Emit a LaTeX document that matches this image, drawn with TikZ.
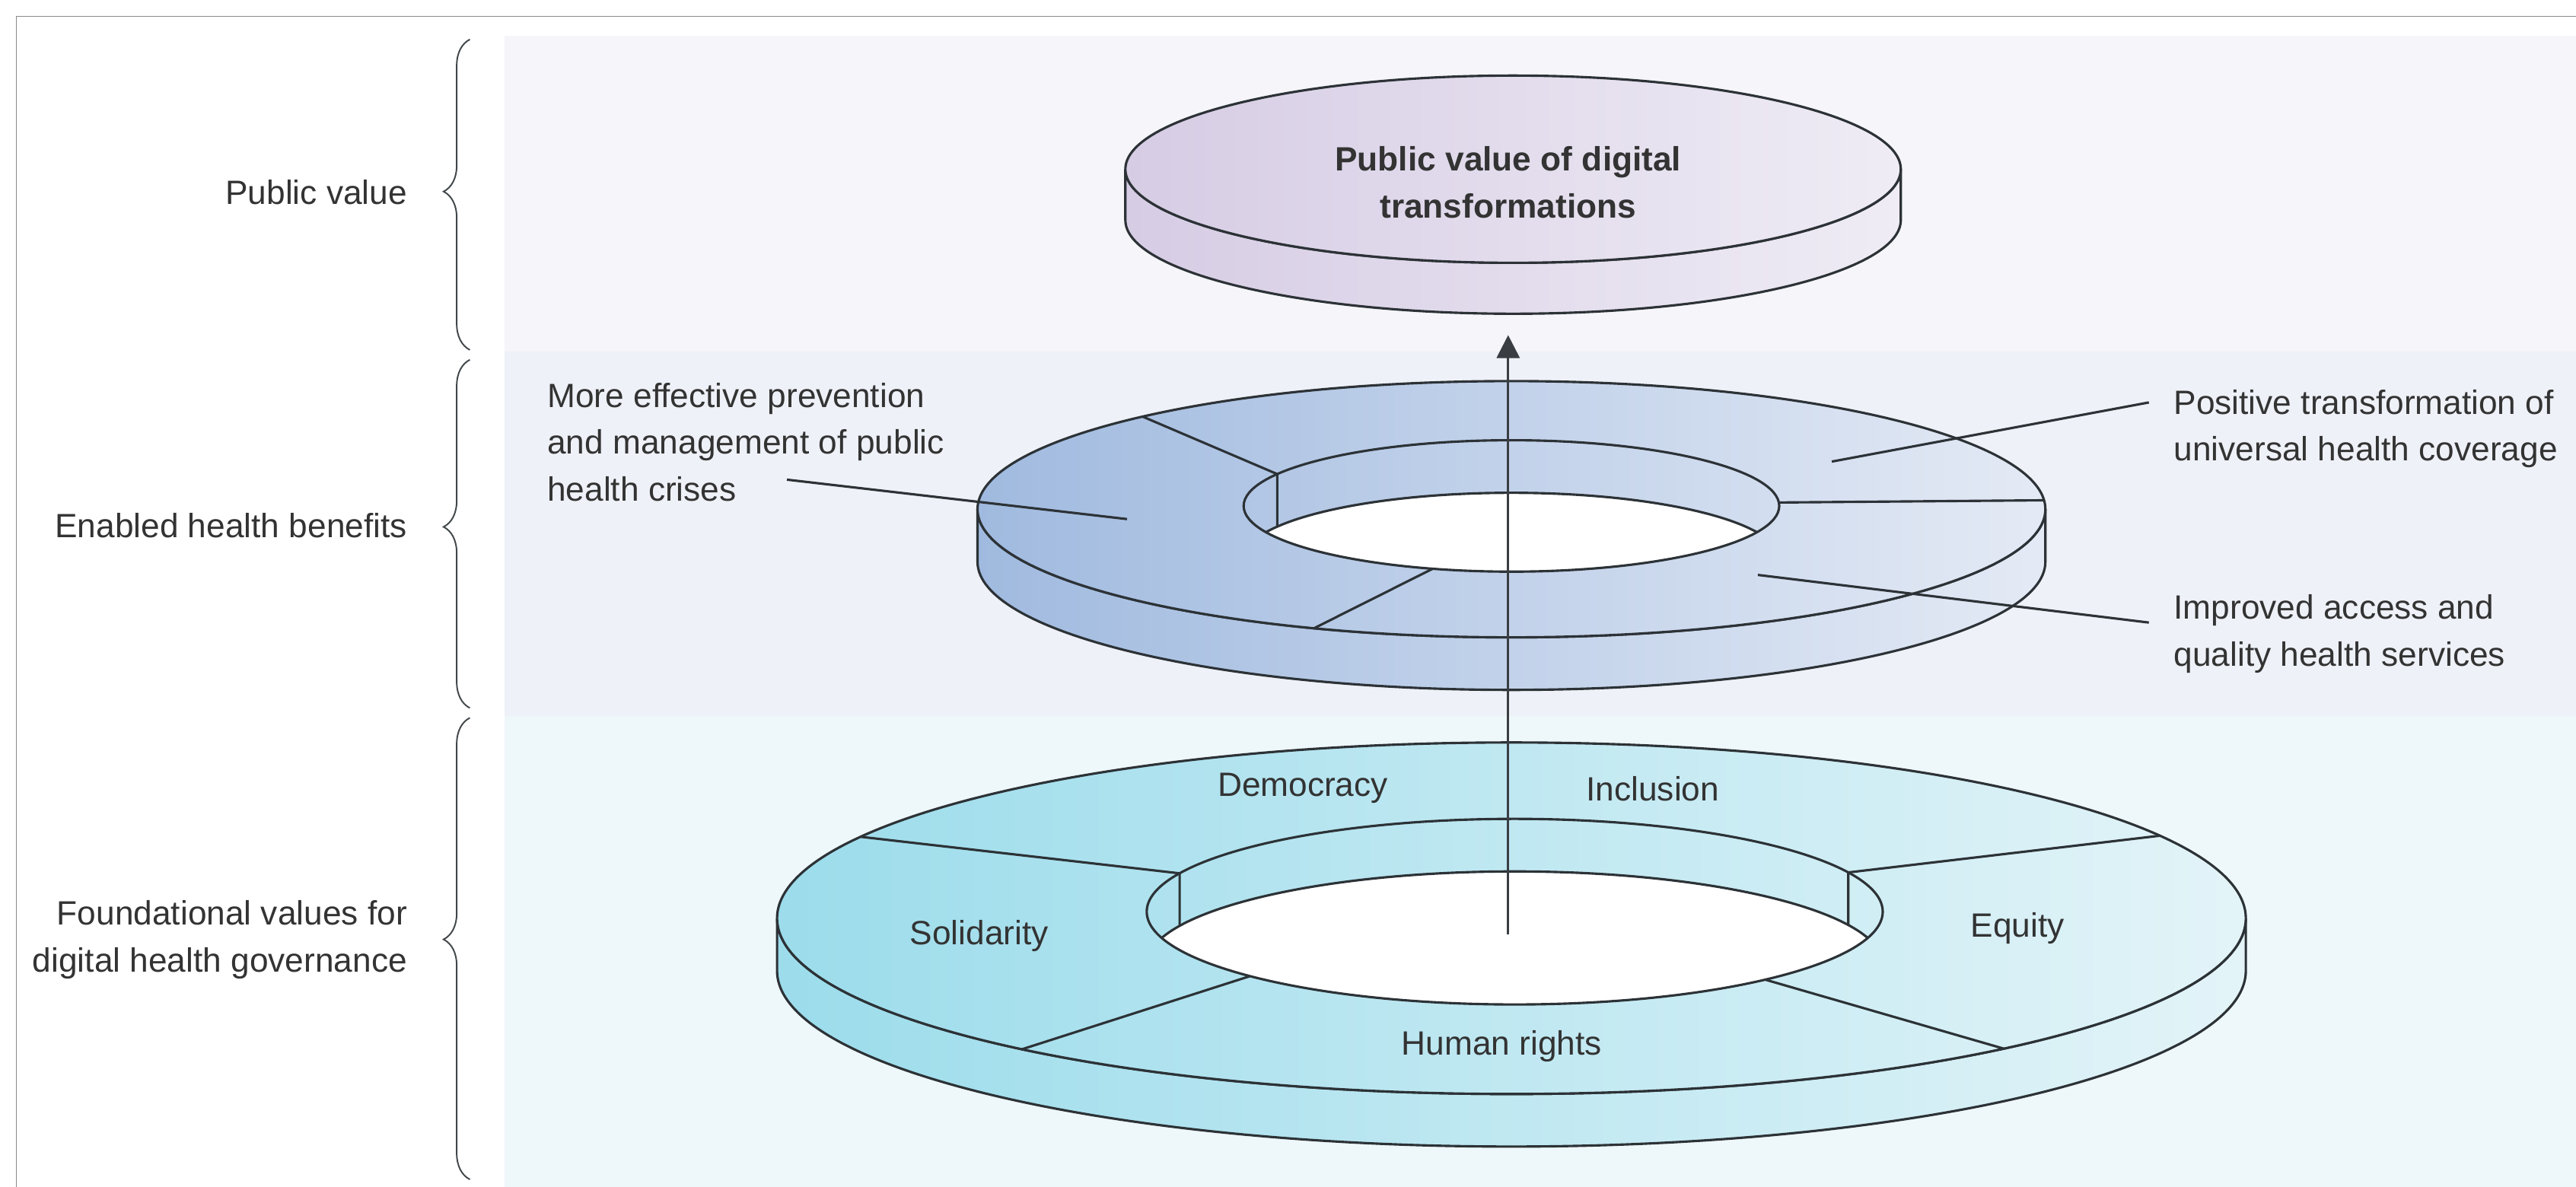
\documentclass[tikz,border=0pt]{standalone}
\usepackage{fontspec}
\setmainfont{Liberation Sans}
\usetikzlibrary{arrows.meta,decorations.pathreplacing,calc}
\definecolor{bandA}{HTML}{F5F5FA}
\definecolor{bandB}{HTML}{EEF1F7}
\definecolor{bandC}{HTML}{EEF7FA}
\definecolor{topL}{HTML}{D6CCE4}
\definecolor{topR}{HTML}{EFECF5}
\definecolor{midL}{HTML}{A0BADF}
\definecolor{midR}{HTML}{E4EAF5}
\definecolor{botL}{HTML}{9CDCEB}
\definecolor{botR}{HTML}{E3F4F8}
\definecolor{linecol}{HTML}{2C3236}
\definecolor{arrcol}{HTML}{3A3E42}
\definecolor{txtcol}{HTML}{333333}
\definecolor{framecol}{HTML}{8A8A8A}
\begin{document}
\begin{tikzpicture}[x=1pt,y=-1pt,
  font=\fontsize{20.5}{28.5}\selectfont,
  edge/.style={draw=linecol, line width=1.45pt},
  leader/.style={draw=linecol, line width=1.45pt},
  lbl/.style={text=txtcol, inner sep=0pt},
  bracestyle/.style={draw=linecol!90, line width=0.9pt, decorate,
     decoration={brace, amplitude=16pt}},
  ]
\useasboundingbox (0,0) rectangle (1568,722.6);
% bands
\fill[bandA] (307,22) rectangle (1568,214);
\fill[bandB] (307,214) rectangle (1568,436);
\fill[bandC] (307,436) rectangle (1568,722.6);
% frame
\draw[framecol, line width=0.8pt] (10,722.6) -- (10,10) -- (1568,10);
% braces
\draw[bracestyle, decoration={aspect=0.51}] (286,213) -- (286,24);
\draw[bracestyle, decoration={aspect=0.52}] (286,431) -- (286,219);
\draw[bracestyle, decoration={aspect=0.52}] (286,718) -- (286,437);
% side labels
\node[lbl, anchor=east] (lPV) at (248,117) {Public value};
\node[lbl, anchor=east] (lEHB) at (248,320) {Enabled health benefits};
\node[lbl, anchor=east, align=right] (lFV) at (248,572) {Foundational values for\\digital health governance};

% ---------- top disc ----------
\shade[left color=topL, right color=topR, edge]
  (1157,103) arc[start angle=0,end angle=180,x radius=236,y radius=57]
  -- (685,134) arc[start angle=180,end angle=0,x radius=236,y radius=57] -- cycle;
\shade[left color=topL, right color=topR, edge] (921,103) ellipse[x radius=236,y radius=57];
\node[lbl, align=center, font=\fontsize{20.5}{28.5}\selectfont\bfseries] (tTop) at (918,111) {Public value of digital\\transformations};

% ---------- middle ring ----------
\shade[left color=midL, right color=midR, edge]
  (1245,310) arc[start angle=0,end angle=180,x radius=325,y radius=78]
  -- (595,342) arc[start angle=180,end angle=0,x radius=325,y radius=78] -- cycle;
\shade[left color=midL, right color=midR, edge] (920,310) ellipse[x radius=325,y radius=78];
\begin{scope}
  \clip (920,308) ellipse[x radius=163,y radius=40];
  \shade[left color=midL!75!midR, right color=midL!25!midR] (920,308) ellipse[x radius=163,y radius=40];
  \fill[white] (920,340) ellipse[x radius=163,y radius=40];
  \draw[edge] (920,340) ellipse[x radius=163,y radius=40];
\end{scope}
\draw[edge] (920,308) ellipse[x radius=163,y radius=40];
\draw[edge] ($(920,310)+(-133.7:325 and 78)$) -- ($(920,308)+(-151:163 and 40)$) -- ++(0,32);
\draw[edge] ($(920,310)+(-4:325 and 78)$) -- ($(920,308)+(-3:163 and 40)$);
\draw[edge] ($(920,310)+(111.7:325 and 78)$) -- ($(920,308)+(107.1:163 and 40)$);

% ---------- bottom ring ----------
\shade[left color=botL, right color=botR, edge]
  (1367,559) arc[start angle=0,end angle=180,x radius=447,y radius=107]
  -- (473,591) arc[start angle=180,end angle=0,x radius=447,y radius=107] -- cycle;
\shade[left color=botL, right color=botR, edge] (920,559) ellipse[x radius=447,y radius=107];
\begin{scope}
  \clip (922,555) ellipse[x radius=224,y radius=56.5];
  \shade[left color=botL!75!botR, right color=botL!25!botR] (922,555) ellipse[x radius=224,y radius=56.5];
  \fill[white] (922,587) ellipse[x radius=224,y radius=56.5];
  \draw[edge] (922,587) ellipse[x radius=224,y radius=56.5];
\end{scope}
\draw[edge] (922,555) ellipse[x radius=224,y radius=56.5];
\draw[edge] ($(920,559)+(-152.4:447 and 107)$) -- ($(922,555)+(-155.6:224 and 56.5)$) -- ++(0,32);
\draw[edge] ($(920,559)+(-28:447 and 107)$) -- ($(922,555)+(-25:224 and 56.5)$) -- ++(0,32);
\draw[edge] ($(920,559)+(131.8:447 and 107)$) -- ($(922,555)+(136:224 and 56.5)$);
\draw[edge] ($(920,559)+(47.9:447 and 107)$) -- ($(922,555)+(47.1:224 and 56.5)$);

% ---------- arrow ----------
\coordinate (arrS) at (918,569);
\coordinate (arrE) at (918,204);
\draw[draw=arrcol, line width=1.3pt, -{Triangle[length=14pt,width=14pt]}] (arrS) -- (arrE);

% ---------- leaders and texts ----------
\node[lbl, anchor=west, align=left] (tMore) at (333,269) {More effective prevention\\and management of public\\health crises};
\node[lbl, anchor=west, align=left] (tPos) at (1323,261) {Positive transformation of\\universal health coverage};
\node[lbl, anchor=west, align=left] (tImp) at (1323,386) {Improved access and\\quality health services};
\coordinate (l1a) at (479,292); \coordinate (l1b) at (686,316);
\coordinate (l2a) at (1308,245); \coordinate (l2b) at (1115,281);
\coordinate (l3a) at (1308,379); \coordinate (l3b) at (1070,350);
\draw[leader] (l1a) -- (l1b);
\draw[leader] (l2a) -- (l2b);
\draw[leader] (l3a) -- (l3b);

% ring labels
\node[lbl] (vDem) at (793,480) {Democracy};
\node[lbl] (vInc) at (1006,480) {Inclusion};
\node[lbl] (vSol) at (596,570) {Solidarity};
\node[lbl] (vEq) at (1228,565) {Equity};
\node[lbl] (vHR) at (914,637) {Human rights};
\end{tikzpicture}
\end{document}
